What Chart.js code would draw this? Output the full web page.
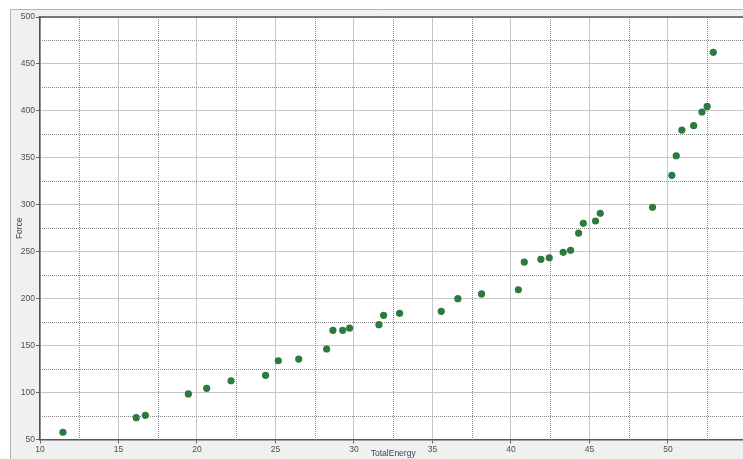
<!DOCTYPE html>
<html>
<head>
<meta charset="utf-8">
<script src="https://cdn.jsdelivr.net/npm/chart.js@4/dist/chart.umd.min.js"></script>
<style>
  html, body { margin: 0; padding: 0; overflow: hidden; background: #ffffff; }
  #wrap { position: relative; width: 750px; height: 459px; }
</style>
</head>
<body>
<div id="wrap"><canvas id="c" width="750" height="459"></canvas></div>
<script>
// ---- data ----
const totalEnergy = [11.46, 16.13, 16.71, 19.45, 20.62, 22.17, 24.37, 25.18, 26.48, 28.26,
                     28.66, 29.28, 29.72, 31.59, 31.89, 32.91, 35.56, 36.62, 38.13, 40.47,
                     40.85, 41.91, 42.44, 43.33, 43.80, 44.31, 44.61, 45.39, 45.69, 49.02,
                     50.25, 50.53, 50.89, 51.64, 52.17, 52.50, 52.89];
const force = [57.7, 73.2, 75.8, 98.5, 104.5, 112.6, 118.4, 133.9, 135.7, 146.4,
               166.3, 166.3, 168.7, 172.3, 182.3, 184.4, 186.5, 200.0, 205.0, 209.5,
               239.0, 241.9, 243.6, 249.4, 251.5, 269.9, 280.2, 282.7, 290.9, 297.3,
               331.4, 352.2, 379.6, 384.2, 398.8, 404.8, 462.4];
const xTickValues = [10, 15, 20, 25, 30, 35, 40, 45, 50];
const yTickValues = [50, 100, 150, 200, 250, 300, 350, 400, 450, 500];
const xMinorValues = [12.5, 17.5, 22.5, 27.5, 32.5, 37.5, 42.5, 47.5, 52.5];
const yMinorValues = [75, 125, 175, 225, 275, 325, 375, 425, 475];

const points = totalEnergy.map((x, i) => ({ x: x, y: force[i] }));

const bgPlugin = {
  id: 'bg',
  beforeDraw(chart) {
    const ctx = chart.ctx;
    const a = chart.chartArea;
    ctx.save();
    ctx.fillStyle = '#ffffff';
    ctx.fillRect(0, 0, chart.width, chart.height);
    ctx.fillStyle = '#f0f0f0';
    ctx.fillRect(10, 9, chart.width - 10, chart.height - 9);
    ctx.strokeStyle = '#b4b4b4';
    ctx.lineWidth = 1;
    ctx.beginPath();
    ctx.moveTo(10.5, chart.height);
    ctx.lineTo(10.5, 9.5);
    ctx.lineTo(chart.width, 9.5);
    ctx.stroke();
    ctx.fillStyle = '#ffffff';
    ctx.fillRect(a.left, a.top, a.right - a.left, a.bottom - a.top);
    ctx.restore();
  },
  beforeDatasetsDraw(chart) {
    const ctx = chart.ctx;
    const a = chart.chartArea;
    const xs = chart.scales.x, ys = chart.scales.y;
    ctx.save();
    ctx.strokeStyle = '#8a8a8a';
    ctx.lineWidth = 1;
    ctx.setLineDash([1, 1]);
    xMinorValues.forEach(v => {
      const px = Math.round(xs.getPixelForValue(v)) + 0.5;
      ctx.beginPath(); ctx.moveTo(px, a.top); ctx.lineTo(px, a.bottom); ctx.stroke();
    });
    yMinorValues.forEach(v => {
      const py = Math.round(ys.getPixelForValue(v)) + 0.5;
      ctx.beginPath(); ctx.moveTo(a.left, py); ctx.lineTo(a.right, py); ctx.stroke();
    });
    ctx.setLineDash([]);
    ctx.strokeStyle = '#555555';
    ctx.lineWidth = 1.5;
    ctx.beginPath(); ctx.moveTo(a.left, a.top); ctx.lineTo(a.right, a.top); ctx.stroke();
    ctx.restore();
  }
};

const tickFont = { family: 'Liberation Sans, Arial, sans-serif', size: 8.5 };
const titleFont = { family: 'Liberation Sans, Arial, sans-serif', size: 8.5 };

new Chart(document.getElementById('c'), {
  type: 'scatter',
  data: {
    datasets: [{
      label: 'Force',
      data: points,
      backgroundColor: '#2b7b3c',
      borderColor: '#2b7b3c',
      borderWidth: 0,
      pointRadius: 3.6,
      pointHoverRadius: 3.6
    }]
  },
  options: {
    responsive: false,
    animation: false,
    layout: { padding: { left: 10, top: 17, right: 0, bottom: 0 } },
    plugins: { legend: { display: false }, tooltip: { enabled: false } },
    scales: {
      x: {
        type: 'linear',
        min: 10, max: 55,
        afterBuildTicks(scale) { scale.ticks = xTickValues.concat([55]).map(v => ({ value: v })); },
        afterFit(scale) { scale.height = 19.5; },
        ticks: {
          font: tickFont, color: '#5a4a3c', padding: 1, maxRotation: 0, autoSkip: false,
          callback: (v) => (v === 55 ? '' : String(v))
        },
        grid: { color: '#c6c6c6', lineWidth: 1, tickLength: 4, tickColor: '#666666' },
        border: { color: '#555555', width: 1.5 },
        title: { display: true, text: 'TotalEnergy', font: titleFont, color: '#3f3f58', padding: { top: 0, bottom: 0 } }
      },
      y: {
        type: 'linear',
        min: 50, max: 500,
        afterBuildTicks(scale) { scale.ticks = yTickValues.map(v => ({ value: v })); },
        afterFit(scale) { scale.width = 30; },
        ticks: { font: tickFont, color: '#5a4a3c', padding: 1, autoSkip: false },
        grid: { color: '#c6c6c6', lineWidth: 1, tickLength: 4, tickColor: '#666666' },
        border: { color: '#555555', width: 1.5 },
        title: { display: true, text: 'Force', font: titleFont, color: '#3f3f58', padding: { top: 5, bottom: 0 } }
      }
    }
  },
  plugins: [bgPlugin]
});
</script>
</body>
</html>
